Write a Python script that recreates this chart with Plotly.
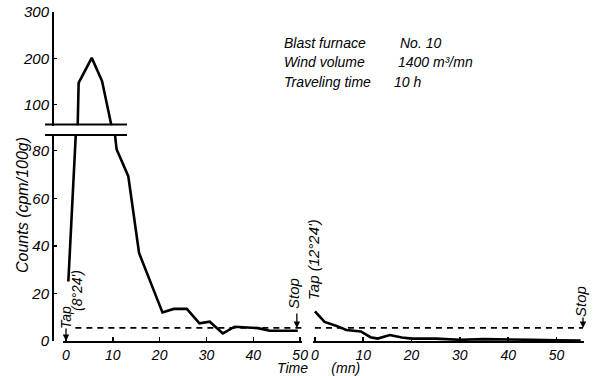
import plotly.graph_objects as go

# ---- data ----
# first run (tap 8°24'), lower (0-87) part of the broken axis
run1_low_x = [0.5, 2.3, 10.0, 10.8, 13.3, 15.6, 18.7, 20.6, 23.0, 25.8, 28.5, 30.7, 33.5, 36.0, 41.0, 43.5, 49.5]
run1_low_y = [25, 95, 95, 80.6, 69.3, 37, 21.5, 12, 13.5, 13.5, 7.4, 8.1, 3.2, 6.0, 5.4, 4.3, 4.3]
# first run, upper (55-300) part of the broken axis
run1_high_x = [2.5, 2.7, 5.5, 7.7, 9.7]
run1_high_y = [55, 147, 201, 151, 55]
# second run (tap 12°24')
run2_x = [0, 2, 4.5, 6.5, 9.5, 11.5, 13, 15.5, 18, 20, 25, 30, 35, 40, 45, 50, 55]
run2_y = [12.5, 8, 6.3, 4.6, 4.0, 1.6, 1.0, 2.5, 1.5, 1.0, 1.0, 0.5, 0.8, 0.8, 0.5, 0.3, 0.2]
# background level (dashed)
level = 5.5
level1_x = [2, 50.4]
level2_x = [0, 55.5]

x_ticks = [0, 10, 20, 30, 40, 50]
y_low_ticks = [0, 20, 40, 60, 80]
y_high_ticks = [100, 200, 300]

FONT = "Liberation Sans Narrow, Liberation Sans, DejaVu Sans"
W, H = 600, 376


def px(v):
    return v / W


def py(v):
    return 1 - v / H


fig = go.Figure()
line = dict(color="black", width=2.6)
fig.add_trace(go.Scatter(x=run1_low_x, y=run1_low_y, mode="lines", line=line, xaxis="x", yaxis="y"))
fig.add_trace(go.Scatter(x=run1_high_x, y=run1_high_y, mode="lines", line=line, xaxis="x2", yaxis="y2"))
fig.add_trace(go.Scatter(x=run2_x, y=run2_y, mode="lines", line=line, xaxis="x3", yaxis="y3"))
dash = dict(color="black", width=1.6, dash="6px,5px")
fig.add_trace(go.Scatter(x=level1_x, y=[level, level], mode="lines", line=dash, xaxis="x", yaxis="y"))
fig.add_trace(go.Scatter(x=level2_x, y=[level, level], mode="lines", line=dash, xaxis="x3", yaxis="y3"))

tickfont_x = dict(family=FONT, size=14, color="black", style="italic")
tickfont_y = dict(family=FONT, size=15, color="black", style="italic")
common_x = dict(showline=True, linecolor="black", linewidth=2, ticks="inside", ticklen=4,
                tickwidth=1.5, tickcolor="black", showgrid=False, zeroline=False, automargin=False,
                tickfont=tickfont_x, tickvals=x_ticks, fixedrange=True)
common_y = dict(showline=True, linecolor="black", linewidth=2, ticks="inside", ticklen=3,
                tickwidth=1.5, tickcolor="black", showgrid=False, zeroline=False, automargin=False,
                tickfont=tickfont_y, fixedrange=True)

low_dom = [py(341), py(135)]
high_dom = [py(125.5), py(12)]

fig.update_layout(
    template="none",
    width=W, height=H, margin=dict(l=0, r=0, t=0, b=0, autoexpand=False),
    paper_bgcolor="white", plot_bgcolor="white", showlegend=False, hovermode=False,
    font=dict(family=FONT, color="black", style="italic"),
    xaxis=dict(domain=[px(63), px(302)], range=[-0.64, 50.4], anchor="y", **common_x),
    yaxis=dict(domain=low_dom, range=[0, 86.6], anchor="free", position=px(53),
               tickvals=y_low_ticks, **common_y),
    xaxis2=dict(domain=[px(63), px(302)], range=[-0.64, 50.4], anchor="y2", visible=False),
    yaxis2=dict(domain=high_dom, range=[55, 300], anchor="free", position=px(53),
                tickvals=y_high_ticks, **common_y),
    xaxis3=dict(domain=[px(313), px(584)], range=[-0.4, 55.7], anchor="y3", **common_x),
    yaxis3=dict(domain=low_dom, range=[0, 86.6], anchor="x3", visible=False),
)

# axis-break lines
for yy in (124.5, 135):
    fig.add_shape(type="line", xref="paper", yref="paper", x0=px(45), x1=px(127),
                  y0=py(yy), y1=py(yy), line=dict(color="black", width=2))


def text(xp, yp, s, size=14, angle=0, xanchor="center"):
    fig.add_annotation(x=px(xp), y=py(yp), xref="paper", yref="paper", text=s,
                       textangle=angle, xanchor=xanchor, yanchor="middle", showarrow=False,
                       font=dict(family=FONT, size=size, color="black", style="italic"))


# axis titles
text(22, 205, "Counts (cpm/100g)", size=16, angle=-90)
text(318, 368, "Time&nbsp;&nbsp;&nbsp;&nbsp;&nbsp;&nbsp;(mn)", size=14)

# event labels
text(66, 318, "Tap", angle=-90)
text(77, 291, "(8°24')", angle=-90)
text(293, 294, "Stop", angle=-90, size=15)
text(313, 259, "Tap (12°24')", angle=-90, size=15)
text(580, 302, "Stop", angle=-90, size=15)

# arrows
arrow = dict(text="", showarrow=True, arrowhead=2, arrowsize=1, arrowwidth=1.3, arrowcolor="black", ax=0)
fig.add_annotation(x=0, y=0, xref="x", yref="y", ay=-14, **arrow)
fig.add_annotation(x=49.3, y=level, xref="x", yref="y", ay=-16, **arrow)
fig.add_annotation(x=-0.5, y=13.5, xref="x3", yref="y3", ay=-12, **arrow)
fig.add_annotation(x=55.5, y=level, xref="x3", yref="y3", ay=-12, **arrow)

# info block
labels = ["Blast furnace", "Wind volume", "Traveling time"]
values = ["No. 10", "1400 m³/mn", "10 h"]
vx = [398, 396, 392]
for i, (lab, val) in enumerate(zip(labels, values)):
    yy = 43 + i * 19.5
    text(282, yy, lab, xanchor="left")
    text(vx[i], yy, val, xanchor="left")

fig.write_html("out.html", config={"displayModeBar": False, "staticPlot": True},
               post_script="document.body.style.margin='0';document.body.style.padding='0';")
